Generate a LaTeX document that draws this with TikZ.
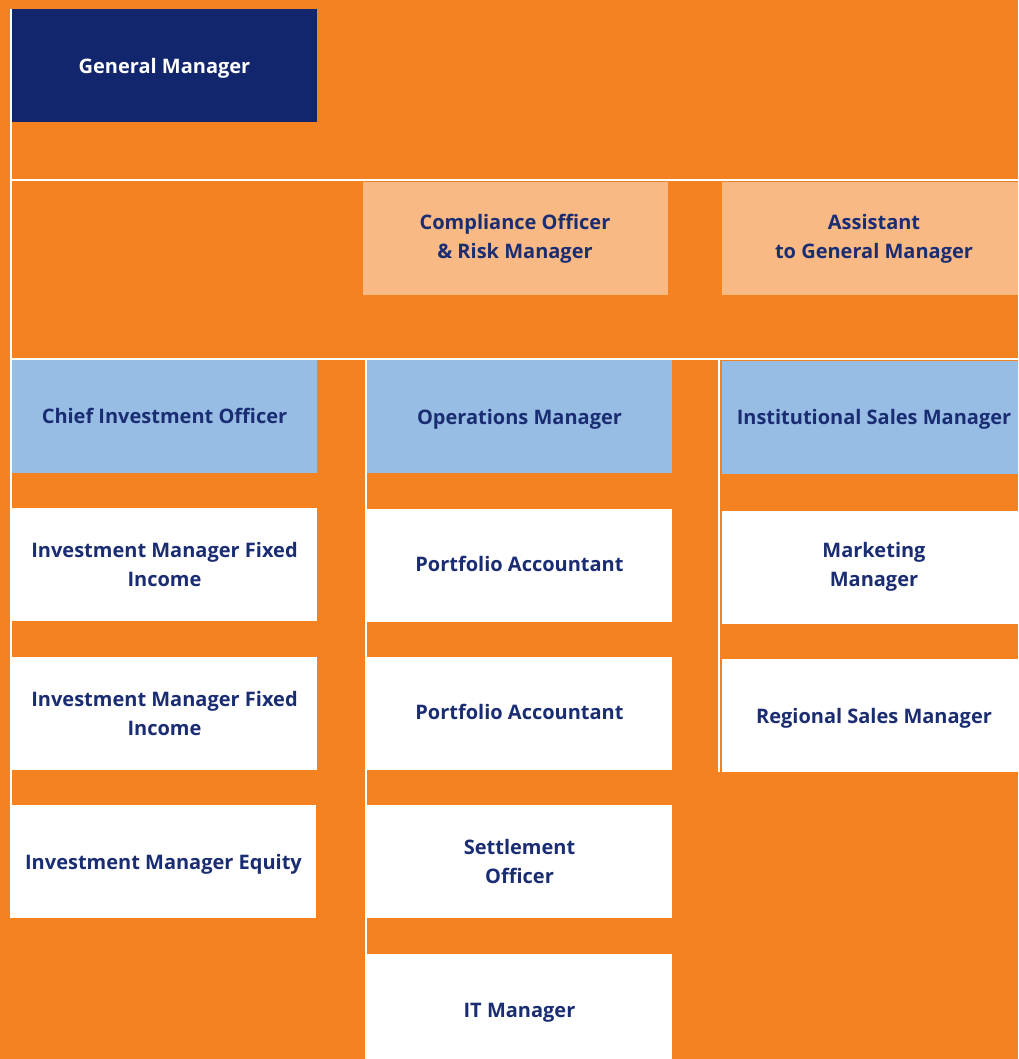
\documentclass[tikz,border=0pt]{standalone}
\usepackage{fontspec}
\setmainfont{Open Sans}
\definecolor{orgbg}{RGB}{244,130,32}
\definecolor{gmnavy}{RGB}{18,38,110}
\definecolor{navytxt}{RGB}{27,45,114}
\definecolor{lightorg}{RGB}{249,185,132}
\definecolor{lightblue}{RGB}{152,189,228}
\tikzset{
  post/.style={minimum width=228.75pt, minimum height=84.75pt, inner sep=0pt,
    align=center, text=navytxt, fill=white,
    font=\bfseries\fontsize{15}{21.75}\selectfont},
  gmpost/.style={post, fill=gmnavy, text=white},
  staffpost/.style={post, fill=lightorg},
  headpost/.style={post, fill=lightblue},
  lowtext/.style={text depth=0pt},
  hightext/.style={text depth=3pt},
  wline/.style={draw=white, line width=1.5pt}
}
\begin{document}
\begin{tikzpicture}[x=0.75pt,y=0.75pt,yscale=-1,xscale=1]
\useasboundingbox (0,0) rectangle (1018,1059);
\clip (0,0) rectangle (1018,1059);
%Background
\fill [orgbg] (0,0) rectangle (1018,1059);

%Straight Lines
\coordinate (top) at (11,9);
\coordinate (leftend) at (11,918);
\coordinate (rowa) at (11,180);
\coordinate (rowae) at (1018,180);
\coordinate (rowb) at (11,359);
\coordinate (rowbe) at (1018,359);
\coordinate (colb) at (365.5,359);
\coordinate (colbe) at (365.5,1059);
\coordinate (colc) at (719.3,359);
\coordinate (colce) at (719.3,772);
\draw [wline] (top) -- (leftend);
\draw [wline] (rowa) -- (rowae);
\draw [wline] (rowb) -- (rowbe);
\draw [wline] (colb) -- (colbe);
\draw [wline] (colc) -- (colce);

%Shape: Rectangle
\node [gmpost, lowtext] (gm) at (164.5,65.5) {General Manager};

%Shape: Rectangle
\node [staffpost] (cro) at (515,238.5) {Compliance Officer\\\& Risk Manager};
\node [staffpost] (agm) at (874,238.5) {Assistant\\to General Manager};

%Shape: Rectangle
\node [headpost] (cio) at (164.5,416) {Chief Investment Officer};
\node [headpost, lowtext] (opm) at (519.5,416.5) {Operations Manager};
\node [headpost, lowtext] (ism) at (874,417) {Institutional Sales Manager};

% Text Node
\node [post] (imfa) at (164.5,564.5) {Investment Manager Fixed\\Income};
\node [post] (imfb) at (164.5,713.5) {Investment Manager Fixed\\Income};
\node [post, lowtext] (ime) at (163.5,861.5) {Investment Manager Equity};

% Text Node
\node [post, hightext] (pfa) at (519.5,565.5) {Portfolio Accountant};
\node [post, hightext] (pfb) at (519.5,713.5) {Portfolio Accountant};
\node [post] (sto) at (519.5,861.5) {Settlement\\Officer};
\node [post, lowtext] (itm) at (519.5,1010.5) {IT Manager};

% Text Node
\node [post] (mkm) at (874,567) {Marketing\\Manager};
\node [post, lowtext] (rsm) at (874,715.5) {Regional Sales Manager};

\end{tikzpicture}
\end{document}
